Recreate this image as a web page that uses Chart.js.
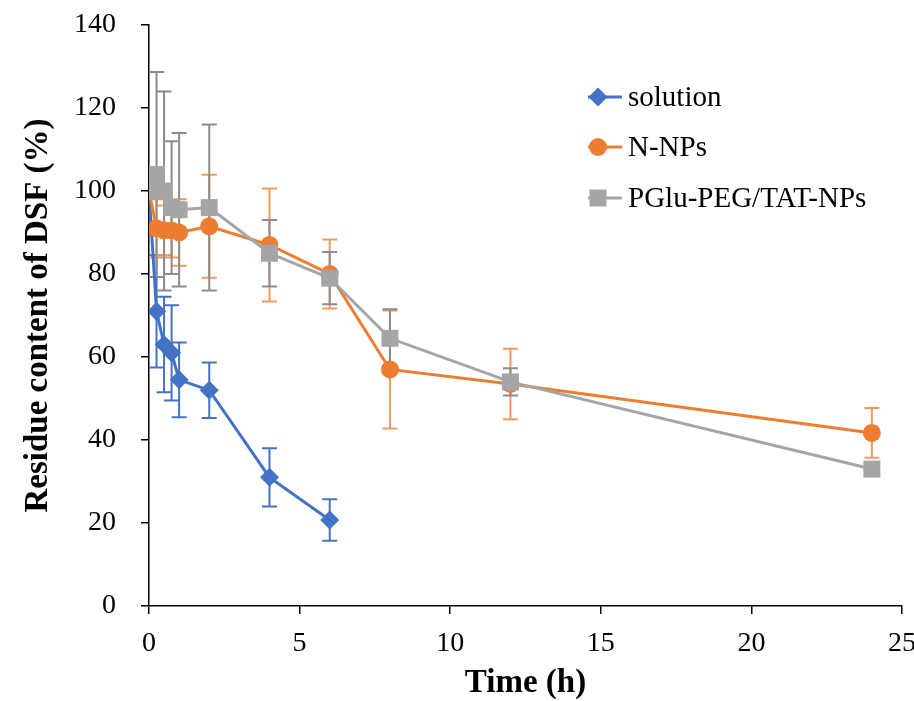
<!DOCTYPE html>
<html>
<head>
<meta charset="utf-8">
<script src="https://cdn.jsdelivr.net/npm/chart.js@4"></script>
<style>
  html, body { margin: 0; padding: 0; background: #fff; }
  #wrap { width: 914px; height: 701px; }
</style>
</head>
<body>
<div id="wrap"><canvas id="myChart" width="914" height="701"></canvas></div>
<script>
// time points (h)
const timesSolution = [0, 0.25, 0.5, 0.75, 1, 2, 4, 6];
const timesNP = [0, 0.25, 0.5, 0.75, 1, 2, 4, 6, 8, 12, 24];

// residue content of DSF (%)
const solutionVals = [100, 71, 63, 61, 54.5, 52, 31, 20.7];
const solutionErr = [0, 13.5, 11.5, 11.5, 9, 6.7, 7, 5];

const nnpVals = [100, 91, 90.5, 90.5, 90, 91.5, 87, 80, 57, 53.5, 41.7];
const nnpErr = [0, 7, 6, 6.5, 8, 12.4, 13.6, 8.3, 14.2, 8.5, 6];

const pgluVals = [100, 104, 100, 96, 95.5, 96, 85, 79, 64.5, 54, 33];
const pgluErr = [0, 24.7, 24, 16, 18.5, 20, 8, 6.3, 7, 3.3, 1];

const xTicks = [0, 5, 10, 15, 20, 25];
const yTicks = [0, 20, 40, 60, 80, 100, 120, 140];

const seriesNames = ['solution', 'N-NPs', 'PGlu-PEG/TAT-NPs'];

const serif = "'Liberation Serif', 'Times New Roman', serif";

function toPoints(xs, ys) {
    return xs.map((x, i) => ({ x: x, y: ys[i] }));
}

// error bars, drawn through the chart scales
const errorBars = {
    id: 'errorBars',
    beforeDatasetsDraw(chart) {
        const ctx = chart.ctx;
        const xs = chart.scales.x;
        const ys = chart.scales.y;
        chart.data.datasets.forEach(ds => {
            ctx.save();
            ctx.strokeStyle = ds.errColor;
            ctx.lineWidth = 2;
            ds.data.forEach((p, i) => {
                const e = ds.err[i];
                if (!e) return;
                const px = xs.getPixelForValue(p.x);
                const top = ys.getPixelForValue(p.y + e);
                const bot = ys.getPixelForValue(p.y - e);
                ctx.beginPath();
                ctx.moveTo(px, top); ctx.lineTo(px, bot);
                ctx.moveTo(px - 7.5, top); ctx.lineTo(px + 7.5, top);
                ctx.moveTo(px - 7.5, bot); ctx.lineTo(px + 7.5, bot);
                ctx.stroke();
            });
            ctx.restore();
        });
    }
};

// legend in the Excel style: line with marker, then label
const sideLegend = {
    id: 'sideLegend',
    afterDraw(chart) {
        const ctx = chart.ctx;
        const rows = [97, 147, 198];
        chart.data.datasets.forEach((ds, i) => {
            const y = rows[i];
            ctx.save();
            ctx.strokeStyle = ds.borderColor;
            ctx.lineWidth = 3;
            ctx.beginPath();
            ctx.moveTo(588, y); ctx.lineTo(622, y);
            ctx.stroke();
            ctx.fillStyle = ds.backgroundColor;
            Chart.helpers.drawPoint(ctx, {
                pointStyle: ds.pointStyle,
                radius: ds.pointRadius,
                borderWidth: 0
            }, 598, y);
            ctx.fillStyle = '#000';
            ctx.font = '29px ' + serif;
            ctx.textBaseline = 'middle';
            ctx.fillText(seriesNames[i], 628, y + 1);
            ctx.restore();
        });
    }
};

const ctx = document.getElementById('myChart').getContext('2d');
new Chart(ctx, {
    type: 'scatter',
    data: {
        datasets: [
            {
                label: seriesNames[0],
                data: toPoints(timesSolution, solutionVals),
                err: solutionErr,
                errColor: '#4472C4',
                showLine: true,
                borderColor: '#4472C4',
                backgroundColor: '#4472C4',
                borderWidth: 3,
                pointStyle: 'rectRot',
                pointRadius: 9.5,
                pointBorderWidth: 0,
                order: 3
            },
            {
                label: seriesNames[1],
                data: toPoints(timesNP, nnpVals),
                err: nnpErr,
                errColor: '#F29A5E',
                showLine: true,
                borderColor: '#ED7D31',
                backgroundColor: '#ED7D31',
                borderWidth: 3,
                pointStyle: 'circle',
                pointRadius: 9,
                pointBorderWidth: 0,
                order: 2
            },
            {
                label: seriesNames[2],
                data: toPoints(timesNP, pgluVals),
                err: pgluErr,
                errColor: '#8C8C8C',
                showLine: true,
                borderColor: '#A5A5A5',
                backgroundColor: '#A5A5A5',
                borderWidth: 3,
                pointStyle: 'rect',
                pointRadius: 12,
                pointBorderWidth: 0,
                order: 1
            }
        ]
    },
    options: {
        responsive: false,
        animation: false,
        layout: { padding: { top: 25, right: 11, left: 0, bottom: 0 } },
        plugins: {
            legend: { display: false },
            tooltip: { enabled: false }
        },
        scales: {
            x: {
                type: 'linear',
                min: 0,
                max: 25,
                afterBuildTicks: axis => { axis.ticks = xTicks.map(v => ({ value: v })); },
                afterFit: axis => { axis.height = 95; axis.paddingLeft = 0; axis.paddingRight = 0; },
                grid: { display: true, drawOnChartArea: false, drawTicks: true, tickLength: 8, color: '#000', lineWidth: 1.5 },
                border: { display: true, color: '#000', width: 1.5 },
                ticks: { color: '#000', font: { family: serif, size: 28 }, padding: 13, maxRotation: 0 },
                title: { display: true, text: 'Time (h)', color: '#000', font: { family: serif, size: 33, weight: 'bold', lineHeight: 1 }, padding: { top: 0, bottom: 1 } }
            },
            y: {
                type: 'linear',
                min: 0,
                max: 140,
                afterBuildTicks: axis => { axis.ticks = yTicks.map(v => ({ value: v })); },
                afterFit: axis => { axis.width = 149; axis.paddingTop = 0; axis.paddingBottom = 0; },
                grid: { display: true, drawOnChartArea: false, drawTicks: true, tickLength: 8, color: '#000', lineWidth: 1.5 },
                border: { display: true, color: '#000', width: 1.5 },
                ticks: { color: '#000', font: { family: serif, size: 28 }, padding: 25 },
                title: { display: true, text: 'Residue content of DSF (%)', color: '#000', font: { family: serif, size: 33, weight: 'bold', lineHeight: 1 }, padding: { top: 22, bottom: 0 } }
            }
        }
    },
    plugins: [errorBars, sideLegend]
});
</script>
</body>
</html>
